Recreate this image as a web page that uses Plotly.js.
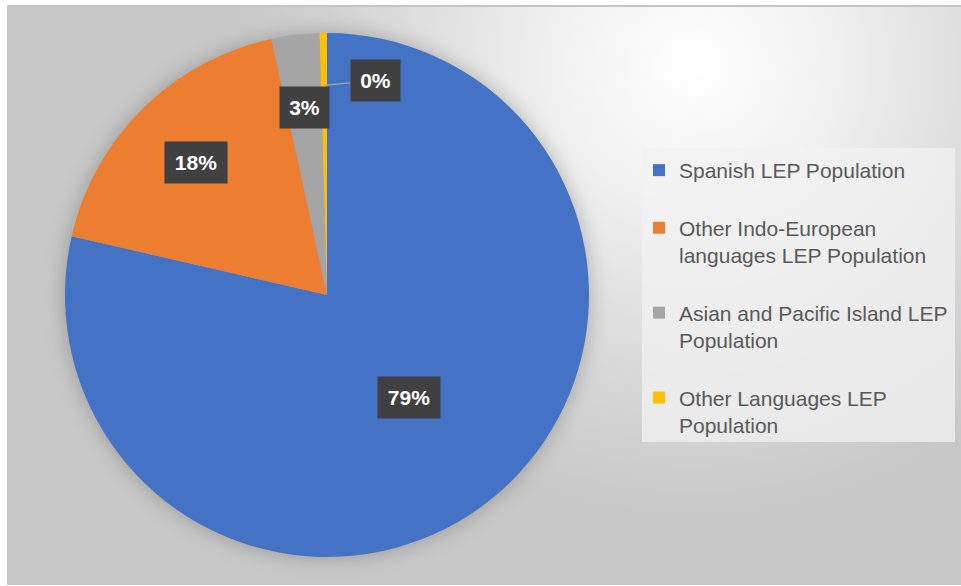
<!DOCTYPE html>
<html>
<head>
<meta charset="utf-8">
<script src="https://cdn.plot.ly/plotly-3.0.1.min.js"></script>
<style>
  html, body { margin: 0; padding: 0; background: #ffffff; }
  #wrap { position: relative; width: 961px; height: 586px; overflow: hidden; }
  #bg {
    position: absolute; left: 7px; top: 5px; width: 954px; height: 578px;
    border-top: 2px solid #c4c4c4;
    background: radial-gradient(ellipse 48% 78% at 72% 10%, #ffffff 0%, #f1f1f1 30%, #d8d8d8 70%, #c8c8c8 100%);
  }
  #chart { position: absolute; left: 0; top: 0; width: 961px; height: 586px; }
  .pielayer { filter: drop-shadow(0px 0px 10px rgba(0,0,0,0.25)); }
</style>
</head>
<body>
<div id="wrap">
  <div id="bg"></div>
  <div id="chart"></div>
</div>
<script>
// ---- data ----
const labels = [
  "Spanish LEP Population",
  "Other Indo-European<br>languages LEP Population",
  "Asian and Pacific Island LEP<br>Population",
  "Other Languages LEP<br>Population"
];
const values = [78.6, 18.0, 2.95, 0.45];
const colors = ["#4472C4", "#ED7D31", "#A5A5A5", "#FFC000"];

// ---- geometry (style) ----
const W = 961, H = 586;
const cx = 327, cy = 295, R = 262;
const domX = [(cx - R) / W, (cx + R) / W];
const domY = [(H - cy - R) / H, (H - cy + R) / H];
const labelRadius = [0.5, 0.71, 0.72, 0.80];

// legend spacing: pad all but the last entry with an empty line
const legendLabels = labels.map((l, i) => i < labels.length - 1 ? l + "<br> " : l);

const total = values.reduce((a, b) => a + b, 0);
const annotations = [];
let cum = 0;
values.forEach((v, i) => {
  const frac = v / total;
  const mid = (cum + frac / 2) * 2 * Math.PI; // clockwise from 12 o'clock
  cum += frac;
  const r = labelRadius[i] * R;
  const px = cx + r * Math.sin(mid);
  const py = cy - r * Math.cos(mid);
  const txt = Math.round(frac * 100) + "%";
  const ann = {
    xref: "paper", yref: "paper",
    x: px / W, y: 1 - py / H,
    xanchor: "center", yanchor: "middle",
    text: txt,
    font: { family: "Liberation Sans, Arial, sans-serif", size: 21, color: "#ffffff", weight: "bold" },
    bgcolor: "#404040",
    borderpad: 7,
    width: 13 * txt.length + 9,
    height: 27,
    showarrow: false
  };
  if (frac < 0.01) {
    ann.showarrow = true;
    ann.arrowhead = 0;
    ann.arrowwidth = 1.3;
    ann.arrowcolor = "#a6a6a6";
    ann.standoff = 0;
    ann.ax = 51;
    ann.ay = -5;
  }
  annotations.push(ann);
});

const trace = {
  type: "pie",
  labels: legendLabels,
  values: values,
  sort: false,
  direction: "clockwise",
  rotation: 0,
  marker: { colors: colors, line: { color: "#ffffff", width: 0 } },
  textinfo: "none",
  hoverinfo: "label+percent",
  domain: { x: domX, y: domY }
};

const layout = {
  width: W, height: H,
  margin: { l: 0, r: 0, t: 0, b: 0 },
  paper_bgcolor: "rgba(0,0,0,0)",
  plot_bgcolor: "rgba(0,0,0,0)",
  showlegend: true,
  legend: {
    x: 639 / W, xanchor: "left",
    y: 1 - 150 / H, yanchor: "top",
    bgcolor: "rgba(0,0,0,0)",
    font: { family: "Liberation Sans, Arial, sans-serif", size: 21, color: "#595959" },
    valign: "top",
    traceorder: "normal"
  },
  shapes: [{
    type: "rect", xref: "paper", yref: "paper", layer: "below",
    x0: 642 / W, x1: 955 / W, y0: 1 - 442 / H, y1: 1 - 148 / H,
    fillcolor: "rgba(242,242,242,0.75)", line: { width: 0 }
  }],
  annotations: annotations
};

Plotly.newPlot("chart", [trace], layout, { displayModeBar: false, staticPlot: true });
</script>
</body>
</html>
